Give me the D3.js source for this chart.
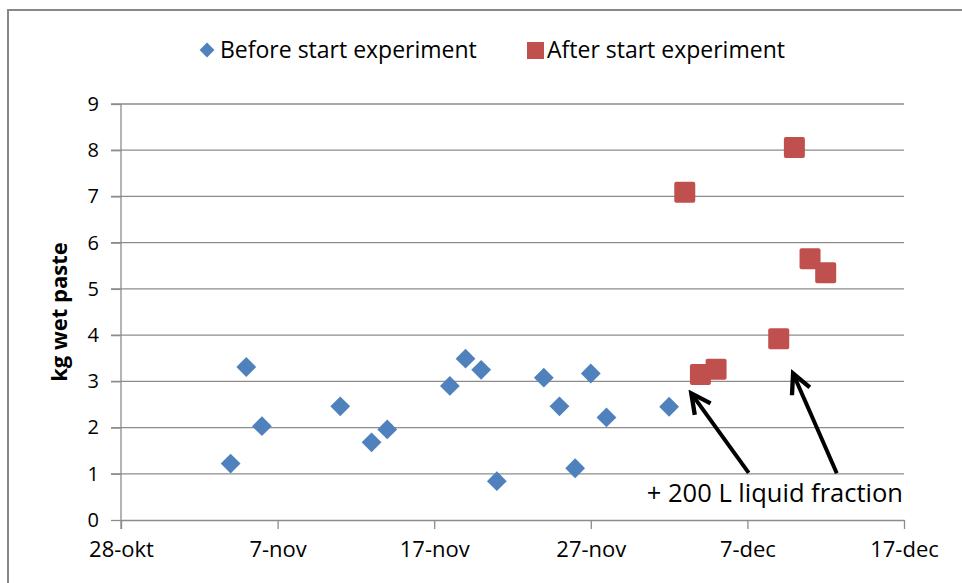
<!DOCTYPE html>
<html lang="en">
<head>
    <meta charset="UTF-8">
    <title>kg wet paste</title>
    <script src="https://d3js.org/d3.v7.min.js"></script>
    <style>
        body { margin: 0; background: #fff; }
        text { font-family: "Open Sans", "Noto Sans", sans-serif; fill: #000; }
        .grid line { stroke: #8c8c8c; stroke-width: 1.3; }
        .axis path, .axis line { stroke: #8c8c8c; stroke-width: 1.3; }
    </style>
</head>
<body>
    <svg id="chart"></svg>
    <script>
        // series
        const beforeDates = ["2012-11-04", "2012-11-05", "2012-11-06", "2012-11-11", "2012-11-13", "2012-11-14",
            "2012-11-18", "2012-11-19", "2012-11-20", "2012-11-21", "2012-11-24", "2012-11-25", "2012-11-26",
            "2012-11-27", "2012-11-28", "2012-12-02"];
        const beforeValues = [1.22, 3.31, 2.03, 2.46, 1.68, 1.96, 2.90, 3.49, 3.25, 0.84, 3.08, 2.46, 1.12, 3.17, 2.22, 2.45];
        const afterDates = ["2012-12-03", "2012-12-04", "2012-12-05", "2012-12-09", "2012-12-10", "2012-12-11", "2012-12-12"];
        const afterValues = [7.09, 3.15, 3.26, 3.92, 8.06, 5.65, 5.35];

        const xTicks = ["2012-10-28", "2012-11-07", "2012-11-17", "2012-11-27", "2012-12-07", "2012-12-17"];
        const monthNames = ["jan", "feb", "mrt", "apr", "mei", "jun", "jul", "aug", "sep", "okt", "nov", "dec"];
        const yTicks = [0, 1, 2, 3, 4, 5, 6, 7, 8, 9];
        const seriesNames = ["Before start experiment", "After start experiment"];
        const colors = ["#4f81bd", "#c0504d"];

        const parse = d3.timeParse("%Y-%m-%d");
        const width = 962, height = 583;

        const svg = d3.select("#chart").attr("width", width).attr("height", height);

        // chart frame
        svg.append("rect")
            .attr("x", 8).attr("y", 10)
            .attr("width", 980).attr("height", 600)
            .attr("fill", "none").attr("stroke", "#888").attr("stroke-width", 2);

        const x = d3.scaleTime()
            .domain([parse(xTicks[0]), parse(xTicks[xTicks.length - 1])])
            .range([121, 904]);
        const y = d3.scaleLinear().domain([0, 9]).range([520, 104]);

        // horizontal gridlines
        svg.append("g").attr("class", "grid")
            .selectAll("line").data(yTicks.slice(1)).enter().append("line")
            .attr("x1", 111).attr("x2", 904)
            .attr("y1", d => y(d)).attr("y2", d => y(d));

        const fmt = d => d.getDate() + "-" + monthNames[d.getMonth()];

        const xAxis = svg.append("g").attr("class", "axis")
            .attr("transform", `translate(0,${y(0)})`)
            .call(d3.axisBottom(x).tickValues(xTicks.map(parse)).tickFormat(fmt).tickSize(9).tickSizeOuter(0).tickPadding(12));
        xAxis.selectAll("text").attr("font-size", 22);

        const yAxis = svg.append("g").attr("class", "axis")
            .attr("transform", `translate(${x.range()[0]},0)`)
            .call(d3.axisLeft(y).tickValues(yTicks).tickSize(10).tickSizeOuter(0).tickPadding(12));
        yAxis.selectAll("text").attr("font-size", 20);
        yAxis.select(".domain").attr("d", `M0,${y(9)}V${y(0) + 9}`);

        svg.append("text")
            .attr("transform", `translate(67,${(y(0) + y(9)) / 2}) rotate(-90)`)
            .attr("text-anchor", "middle")
            .attr("font-size", 22).attr("font-weight", "bold")
            .text("kg wet paste");

        const diamond = d3.symbol().type(d3.symbolDiamond2).size(250);

        svg.append("g").selectAll("path")
            .data(beforeDates.map((d, i) => ({ date: parse(d), v: beforeValues[i] })))
            .enter().append("path")
            .attr("d", diamond)
            .attr("transform", d => `translate(${x(d.date)},${y(d.v)})`)
            .attr("fill", colors[0]);

        const sq = 21;
        svg.append("g").selectAll("rect")
            .data(afterDates.map((d, i) => ({ date: parse(d), v: afterValues[i] })))
            .enter().append("rect")
            .attr("x", d => x(d.date) - sq / 2)
            .attr("y", d => y(d.v) - sq / 2)
            .attr("width", sq).attr("height", sq).attr("rx", 2)
            .attr("fill", colors[1]);

        // annotation arrows (day offsets from first tick, value)
        const dayX = n => x(d3.timeHour.offset(parse(xTicks[0]), Math.round(n * 24)));
        const arrows = [
            { from: [40.1, 1.02], to: [36.4, 2.74] },
            { from: [45.7, 1.01], to: [42.9, 3.17] }
        ];
        svg.append("defs").append("marker")
            .attr("id", "head").attr("viewBox", "0 0 12 12")
            .attr("refX", 10).attr("refY", 6)
            .attr("markerWidth", 6.5).attr("markerHeight", 6.5)
            .attr("orient", "auto")
            .append("path").attr("d", "M1,1.5 L10,6 L1,10.5")
            .attr("fill", "none").attr("stroke", "#000").attr("stroke-width", 2);

        svg.append("g").selectAll("line").data(arrows).enter().append("line")
            .attr("x1", d => dayX(d.from[0])).attr("y1", d => y(d.from[1]))
            .attr("x2", d => dayX(d.to[0])).attr("y2", d => y(d.to[1]))
            .attr("stroke", "#000").attr("stroke-width", 4)
            .attr("marker-end", "url(#head)");

        svg.append("text")
            .attr("x", 903).attr("y", y(0.39))
            .attr("text-anchor", "end")
            .attr("font-size", 25.5)
            .text("+ 200 L liquid fraction");

        // legend
        const legend = svg.append("g").attr("transform", "translate(0,50)");
        legend.append("path").attr("d", d3.symbol().type(d3.symbolDiamond2).size(140))
            .attr("transform", "translate(207,0)").attr("fill", colors[0]);
        legend.append("text").attr("x", 220).attr("y", 8).attr("font-size", 23).text(seriesNames[0]);
        legend.append("rect").attr("x", 527).attr("y", -8).attr("width", 17).attr("height", 17).attr("fill", colors[1]);
        legend.append("text").attr("x", 547).attr("y", 8).attr("font-size", 23).text(seriesNames[1]);
    </script>
</body>
</html>
